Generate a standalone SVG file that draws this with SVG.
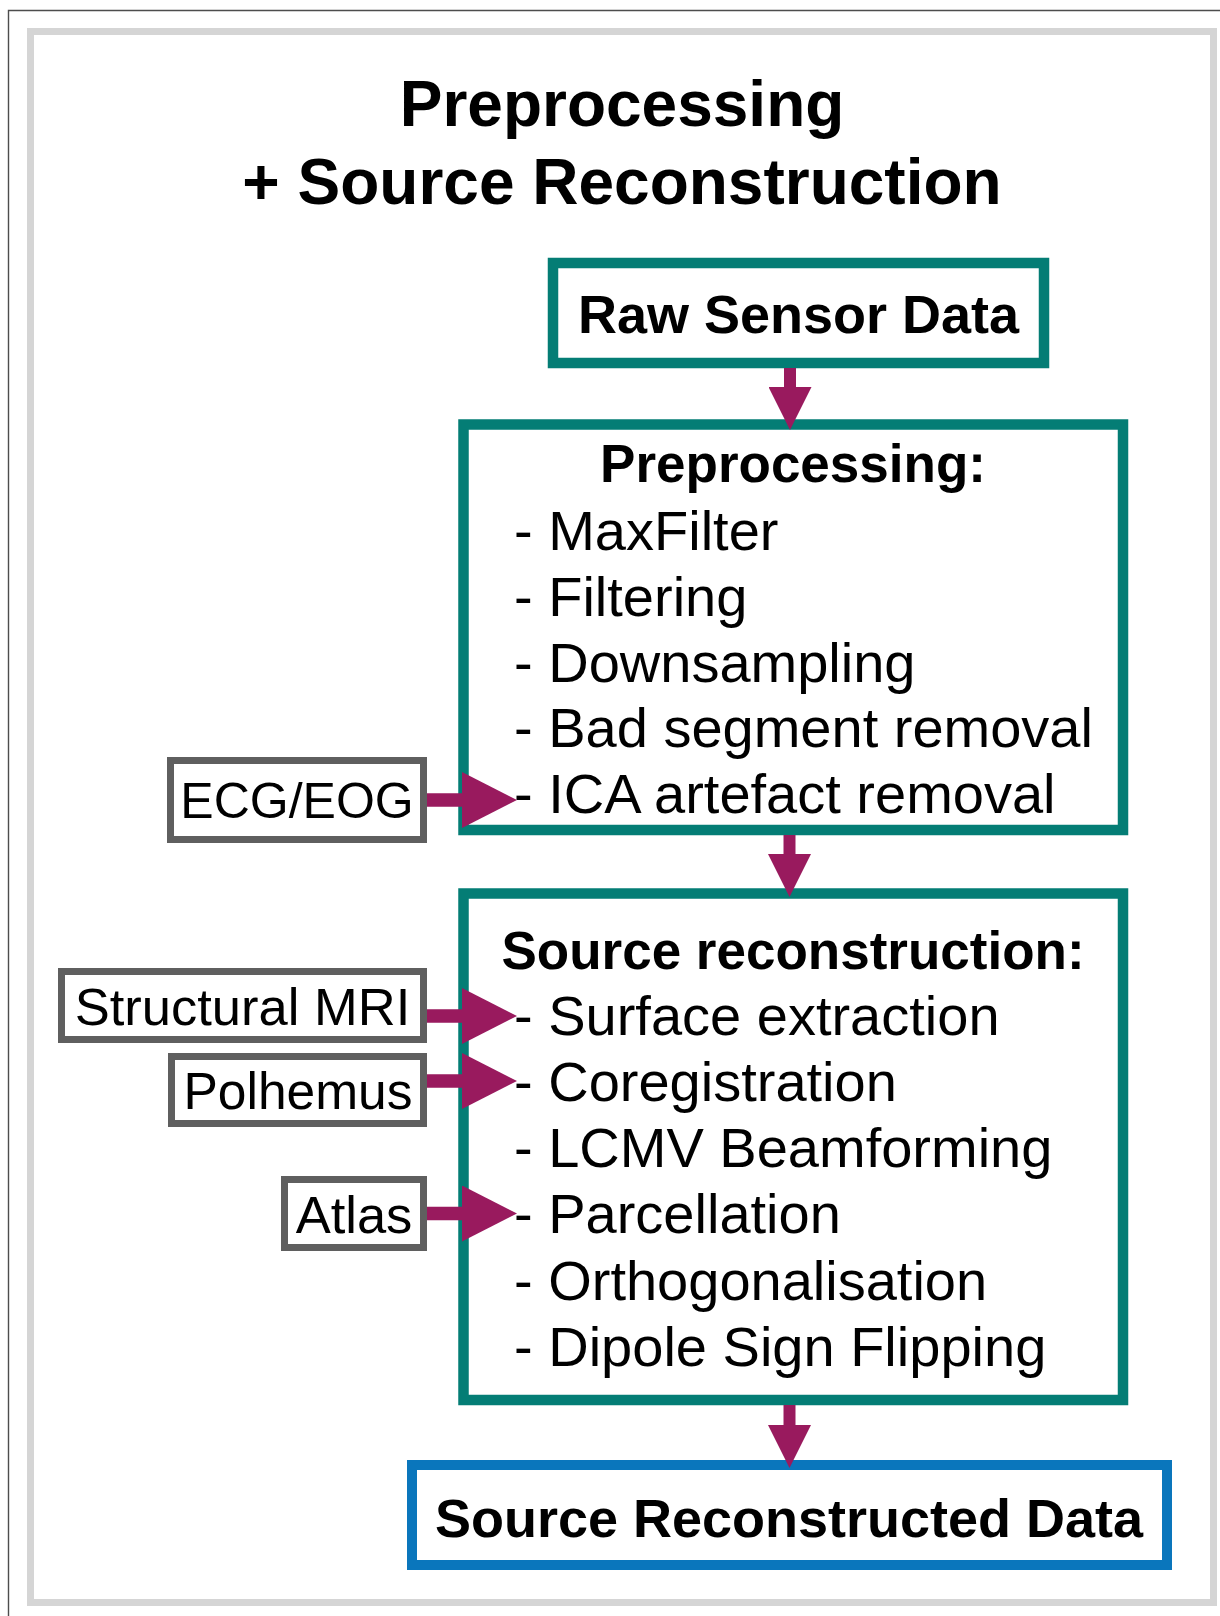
<svg xmlns="http://www.w3.org/2000/svg" width="1220" height="1616" viewBox="0 0 1220 1616">
<style>
  text { font-family: "Liberation Sans", Arial, Helvetica, sans-serif; fill: #000; }
  .title { font-size: 64px; font-weight: bold; text-anchor: middle; }
  .head { font-size: 54px; font-weight: bold; text-anchor: middle; }
  .hdr { font-size: 53px; font-weight: bold; text-anchor: middle; }
  .item { font-size: 56px; }
  .lbl { font-size: 51.5px; text-anchor: middle; }
  .teal { fill: #fff; stroke: #047d75; stroke-width: 10.5; }
  .blue { fill: #fff; stroke: #0a76bc; stroke-width: 10; }
  .gray { fill: #fff; stroke: #5f5f5f; stroke-width: 7; }
  .sh { stroke: #991a5e; fill: none; }
</style>
<defs>
  <marker id="hH" markerUnits="userSpaceOnUse" viewBox="0 0 55 56" markerWidth="55" markerHeight="56" refX="0" refY="28" orient="auto">
    <path d="M0,0 L55,28 L0,56 Z" fill="#991a5e"/>
  </marker>
  <marker id="hV" markerUnits="userSpaceOnUse" viewBox="0 0 43 43" markerWidth="43" markerHeight="43" refX="0" refY="21.5" orient="auto">
    <path d="M0,0 L43,21.5 L0,43 Z" fill="#991a5e"/>
  </marker>
</defs>
<rect width="1220" height="1616" fill="#fff"/>
<path d="M8.5,1616 V10.5 H1220" fill="none" stroke="#4d4d4d" stroke-width="1.4"/>
<rect x="30.5" y="31.5" width="1183" height="1571" fill="#fff" stroke="#d5d5d5" stroke-width="7"/>

<g id="title">
  <text class="title" x="622" y="126">Preprocessing</text>
  <text class="title" x="622" y="204">+ Source Reconstruction</text>
</g>

<g id="raw">
  <rect class="teal" x="553" y="263" width="491" height="100"/>
  <text class="head" x="798.5" y="333">Raw Sensor Data</text>
</g>

<g id="preprocessing">
  <rect class="teal" x="463.5" y="424.5" width="659.5" height="405.5"/>
  <text class="hdr" x="793" y="482">Preprocessing:</text>
  <text class="item" x="514" y="550">- MaxFilter</text>
  <text class="item" x="514" y="615.5">- Filtering</text>
  <text class="item" x="514" y="681.5">- Downsampling</text>
  <text class="item" x="514" y="747">- Bad segment removal</text>
  <text class="item" x="514" y="813">- ICA artefact removal</text>
</g>

<g id="source">
  <rect class="teal" x="463.5" y="893.5" width="659.5" height="506.5"/>
  <text class="hdr" x="793" y="968.5">Source reconstruction:</text>
  <text class="item" x="514" y="1034.5">- Surface extraction</text>
  <text class="item" x="514" y="1100.5">- Coregistration</text>
  <text class="item" x="514" y="1166.5">- LCMV Beamforming</text>
  <text class="item" x="514" y="1233">- Parcellation</text>
  <text class="item" x="514" y="1299.5">- Orthogonalisation</text>
  <text class="item" x="514" y="1366">- Dipole Sign Flipping</text>
</g>

<g id="output">
  <rect class="blue" x="412" y="1465" width="755" height="100"/>
  <text class="head" x="789" y="1537">Source Reconstructed Data</text>
</g>

<g id="ecg">
  <rect class="gray" x="170.5" y="760.5" width="253" height="79"/>
  <text class="lbl" x="297" y="817.5" style="font-size:50px">ECG/EOG</text>
</g>
<g id="mri">
  <rect class="gray" x="61.5" y="971.5" width="362" height="68"/>
  <text class="lbl" x="242.5" y="1024.5" style="font-size:52.5px">Structural MRI</text>
</g>
<g id="polhemus">
  <rect class="gray" x="171.5" y="1056.5" width="252" height="67"/>
  <text class="lbl" x="298" y="1108.5">Polhemus</text>
</g>
<g id="atlas">
  <rect class="gray" x="284.5" y="1179.5" width="139" height="68"/>
  <text class="lbl" x="354" y="1232.5" style="font-size:52.5px">Atlas</text>
</g>

<g id="connectors">
  <line class="sh" x1="790" y1="368" x2="790" y2="387" stroke-width="12" marker-end="url(#hV)"/>
  <line class="sh" x1="789.5" y1="835" x2="789.5" y2="854" stroke-width="12" marker-end="url(#hV)"/>
  <line class="sh" x1="789.5" y1="1405" x2="789.5" y2="1425" stroke-width="12" marker-end="url(#hV)"/>
  <line class="sh" x1="427" y1="800" x2="462" y2="800" stroke-width="13.5" marker-end="url(#hH)"/>
  <line class="sh" x1="427" y1="1016" x2="462" y2="1016" stroke-width="13.5" marker-end="url(#hH)"/>
  <line class="sh" x1="427" y1="1081" x2="462" y2="1081" stroke-width="13.5" marker-end="url(#hH)"/>
  <line class="sh" x1="427" y1="1213.5" x2="462" y2="1213.5" stroke-width="13.5" marker-end="url(#hH)"/>
</g>
</svg>
